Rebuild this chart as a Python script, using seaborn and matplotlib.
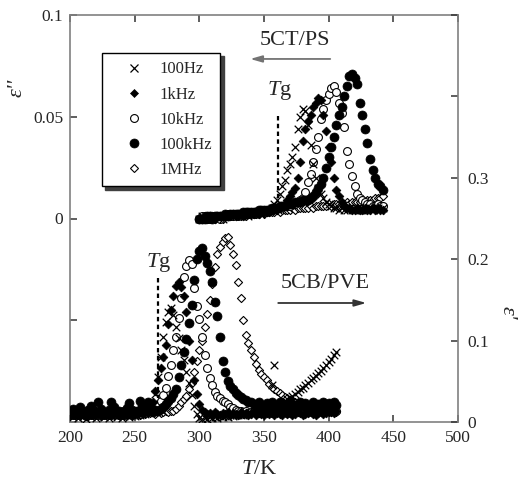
import matplotlib
matplotlib.use("Agg")
import matplotlib.pyplot as plt
import seaborn as sns
import pandas as pd
from matplotlib.lines import Line2D

# ---------------- data ----------------
freqs = ["100Hz", "1kHz", "10kHz", "100kHz", "1MHz"]

# 5CT/PS : epsilon'' (left axis)
T_ps = [300, 302, 304, 306, 308, 310, 312, 314, 316, 318,
        320, 322, 324, 326, 328, 330, 332, 334, 336, 338,
        340, 342, 344, 346, 348, 350, 352, 354, 356, 358,
        360, 362, 364, 366, 368, 370, 372, 374, 376, 378,
        380, 382, 384, 386, 388, 390, 392, 394, 396, 398,
        400, 402, 404, 406, 408, 410, 412, 414, 416, 418,
        420, 422, 424, 426, 428, 430, 432, 434, 436, 438,
        440, 442]

ps_100Hz = [0.000, 0.001, 0.000, 0.001, 0.001, 0.000, 0.001, 0.001, 0.001, 0.000,
            0.001, 0.001, 0.002, 0.001, 0.001, 0.002, 0.001, 0.002, 0.002, 0.001,
            0.002, 0.002, 0.002, 0.003, 0.002, 0.003, 0.003, 0.004, 0.005, 0.007,
            0.009, 0.012, 0.016, 0.019, 0.024, 0.027, 0.030, 0.035, 0.044, 0.050,
            0.054, 0.053, 0.046, 0.036, 0.027, 0.020, 0.015, 0.012, 0.010, 0.008,
            0.007, 0.006, 0.005, 0.005, 0.004, 0.005, 0.004, 0.004, 0.005, 0.004,
            0.004, 0.005, 0.004, 0.004, 0.005, 0.004, 0.005, 0.004, 0.005, 0.005,
            0.004, 0.005]
ps_1kHz = [0.000, 0.000, 0.001, 0.000, 0.001, 0.001, 0.000, 0.001, 0.001, 0.001,
           0.001, 0.001, 0.001, 0.002, 0.001, 0.002, 0.002, 0.001, 0.002, 0.002,
           0.002, 0.002, 0.003, 0.002, 0.003, 0.003, 0.003, 0.003, 0.004, 0.004,
           0.004, 0.005, 0.006, 0.007, 0.009, 0.011, 0.013, 0.015, 0.020, 0.028,
           0.038, 0.044, 0.048, 0.051, 0.055, 0.057, 0.059, 0.058, 0.051, 0.043,
           0.035, 0.028, 0.020, 0.014, 0.011, 0.008, 0.006, 0.005, 0.005, 0.004,
           0.004, 0.005, 0.004, 0.004, 0.005, 0.004, 0.004, 0.005, 0.004, 0.005,
           0.004, 0.004]
ps_10kHz = [0.000, 0.001, 0.001, 0.000, 0.000, 0.001, 0.001, 0.001, 0.000, 0.001,
            0.001, 0.002, 0.001, 0.001, 0.002, 0.001, 0.002, 0.002, 0.002, 0.002,
            0.003, 0.002, 0.003, 0.003, 0.003, 0.003, 0.004, 0.004, 0.004, 0.005,
            0.005, 0.005, 0.006, 0.006, 0.006, 0.006, 0.007, 0.007, 0.008, 0.009,
            0.010, 0.013, 0.018, 0.022, 0.028, 0.034, 0.040, 0.049, 0.054, 0.058,
            0.061, 0.064, 0.065, 0.062, 0.057, 0.052, 0.045, 0.033, 0.027, 0.021,
            0.016, 0.012, 0.010, 0.009, 0.008, 0.007, 0.007, 0.006, 0.006, 0.007,
            0.006, 0.006]
ps_100kHz = [0.000, 0.000, 0.000, 0.001, 0.001, 0.000, 0.001, 0.001, 0.001, 0.001,
             0.002, 0.001, 0.002, 0.002, 0.002, 0.002, 0.002, 0.003, 0.003, 0.003,
             0.003, 0.003, 0.003, 0.004, 0.004, 0.004, 0.004, 0.004, 0.005, 0.005,
             0.005, 0.006, 0.006, 0.006, 0.007, 0.007, 0.007, 0.008, 0.008, 0.008,
             0.009, 0.009, 0.009, 0.010, 0.011, 0.013, 0.015, 0.017, 0.020, 0.025,
             0.030, 0.035, 0.040, 0.046, 0.051, 0.055, 0.060, 0.065, 0.070, 0.071,
             0.069, 0.066, 0.057, 0.051, 0.044, 0.037, 0.029, 0.024, 0.020, 0.017,
             0.016, 0.014]
ps_1MHz = [0.000, 0.000, 0.001, 0.000, 0.000, 0.001, 0.000, 0.001, 0.001, 0.000,
           0.001, 0.001, 0.001, 0.001, 0.001, 0.002, 0.001, 0.002, 0.001, 0.002,
           0.002, 0.002, 0.002, 0.002, 0.003, 0.002, 0.003, 0.003, 0.003, 0.003,
           0.004, 0.003, 0.004, 0.004, 0.004, 0.004, 0.005, 0.004, 0.005, 0.005,
           0.005, 0.005, 0.005, 0.006, 0.005, 0.006, 0.006, 0.006, 0.006, 0.006,
           0.007, 0.006, 0.007, 0.007, 0.007, 0.007, 0.007, 0.008, 0.007, 0.008,
           0.008, 0.008, 0.008, 0.009, 0.008, 0.009, 0.009, 0.009, 0.010, 0.010,
           0.010, 0.011]

# 5CB/PVE : epsilon' (right axis)
T_pve = [200, 202, 204, 206, 208, 210, 212, 214, 216, 218,
         220, 222, 224, 226, 228, 230, 232, 234, 236, 238,
         240, 242, 244, 246, 248, 250, 252, 254, 256, 258,
         260, 262, 264, 266, 268, 270, 272, 274, 276, 278,
         280, 282, 284, 286, 288, 290, 292, 294, 296, 298,
         300, 302, 304, 306, 308, 310, 312, 314, 316, 318,
         320, 322, 324, 326, 328, 330, 332, 334, 336, 338,
         340, 342, 344, 346, 348, 350, 352, 354, 356, 358,
         360, 362, 364, 366, 368, 370, 372, 374, 376, 378,
         380, 382, 384, 386, 388, 390, 392, 394, 396, 398,
         400, 402, 404, 406]

pve_100Hz = [0.010, 0.006, 0.008, 0.005, 0.009, 0.007, 0.004, 0.008, 0.006, 0.009,
             0.005, 0.007, 0.010, 0.006, 0.008, 0.005, 0.007, 0.009, 0.006, 0.008,
             0.005, 0.007, 0.009, 0.006, 0.008, 0.007, 0.009, 0.008, 0.010, 0.010,
             0.012, 0.015, 0.022, 0.035, 0.055, 0.080, 0.105, 0.123, 0.135, 0.140,
             0.132, 0.117, 0.103, 0.088, 0.076, 0.062, 0.048, 0.033, 0.020, 0.010,
             0.005, 0.004, 0.005, 0.004, 0.006, 0.005, 0.006, 0.005, 0.007, 0.006,
             0.007, 0.006, 0.008, 0.007, 0.008, 0.008, 0.009, 0.009, 0.010, 0.010,
             0.011, 0.012, 0.012, 0.013, 0.014, 0.014, 0.015, 0.016, 0.045, 0.070,
             0.018, 0.021, 0.023, 0.025, 0.028, 0.030, 0.032, 0.035, 0.037, 0.040,
             0.042, 0.045, 0.048, 0.051, 0.054, 0.057, 0.060, 0.063, 0.066, 0.070,
             0.074, 0.078, 0.082, 0.086]
pve_1kHz = [0.009, 0.012, 0.008, 0.011, 0.007, 0.010, 0.013, 0.009, 0.011, 0.008,
            0.012, 0.010, 0.007, 0.011, 0.009, 0.013, 0.008, 0.010, 0.012, 0.009,
            0.011, 0.008, 0.010, 0.012, 0.009, 0.011, 0.010, 0.012, 0.011, 0.012,
            0.012, 0.016, 0.025, 0.038, 0.052, 0.066, 0.080, 0.095, 0.120, 0.138,
            0.155, 0.167, 0.172, 0.166, 0.155, 0.135, 0.100, 0.076, 0.052, 0.034,
            0.022, 0.015, 0.012, 0.010, 0.011, 0.009, 0.012, 0.010, 0.008, 0.011,
            0.010, 0.012, 0.009, 0.011, 0.010, 0.008, 0.012, 0.010, 0.011, 0.009,
            0.010, 0.012, 0.009, 0.011, 0.010, 0.008, 0.011, 0.010, 0.012, 0.009,
            0.011, 0.010, 0.009, 0.012, 0.010, 0.011, 0.009, 0.010, 0.012, 0.011,
            0.009, 0.010, 0.011, 0.012, 0.010, 0.009, 0.011, 0.012, 0.010, 0.011,
            0.013, 0.012, 0.011, 0.013]
pve_10kHz = [0.011, 0.008, 0.012, 0.009, 0.013, 0.010, 0.007, 0.011, 0.009, 0.012,
             0.010, 0.008, 0.012, 0.009, 0.011, 0.013, 0.008, 0.010, 0.012, 0.009,
             0.011, 0.008, 0.012, 0.010, 0.009, 0.011, 0.013, 0.010, 0.012, 0.011,
             0.012, 0.013, 0.013, 0.014, 0.020, 0.026, 0.033, 0.042, 0.056, 0.070,
             0.088, 0.104, 0.128, 0.152, 0.178, 0.192, 0.199, 0.194, 0.165, 0.143,
             0.126, 0.105, 0.082, 0.066, 0.054, 0.045, 0.037, 0.032, 0.029, 0.026,
             0.024, 0.022, 0.019, 0.017, 0.015, 0.014, 0.013, 0.012, 0.013, 0.011,
             0.012, 0.014, 0.012, 0.011, 0.013, 0.012, 0.014, 0.012, 0.011, 0.013,
             0.012, 0.014, 0.013, 0.012, 0.011, 0.013, 0.012, 0.014, 0.013, 0.012,
             0.014, 0.013, 0.012, 0.014, 0.013, 0.015, 0.013, 0.014, 0.012, 0.015,
             0.014, 0.013, 0.015, 0.014]
pve_100kHz = [0.012, 0.016, 0.010, 0.014, 0.018, 0.012, 0.009, 0.015, 0.020, 0.013,
              0.011, 0.024, 0.016, 0.012, 0.010, 0.015, 0.025, 0.019, 0.012, 0.014,
              0.010, 0.013, 0.017, 0.023, 0.015, 0.011, 0.014, 0.026, 0.020, 0.013,
              0.024, 0.016, 0.012, 0.015, 0.014, 0.016, 0.018, 0.022, 0.026, 0.030,
              0.034, 0.040, 0.055, 0.070, 0.086, 0.102, 0.122, 0.144, 0.175, 0.200,
              0.210, 0.214, 0.204, 0.195, 0.186, 0.172, 0.148, 0.130, 0.105, 0.075,
              0.062, 0.050, 0.044, 0.040, 0.036, 0.033, 0.031, 0.028, 0.027, 0.025,
              0.024, 0.022, 0.018, 0.024, 0.020, 0.017, 0.023, 0.019, 0.025, 0.021,
              0.018, 0.024, 0.020, 0.017, 0.022, 0.026, 0.019, 0.021, 0.018, 0.024,
              0.020, 0.023, 0.017, 0.021, 0.025, 0.019, 0.022, 0.018, 0.024, 0.020,
              0.023, 0.019, 0.025, 0.021]
pve_1MHz = [0.010, 0.013, 0.009, 0.012, 0.008, 0.011, 0.014, 0.010, 0.012, 0.009,
            0.013, 0.010, 0.008, 0.012, 0.011, 0.009, 0.013, 0.010, 0.012, 0.008,
            0.011, 0.013, 0.009, 0.012, 0.010, 0.014, 0.011, 0.009, 0.012, 0.010,
            0.013, 0.011, 0.012, 0.010, 0.013, 0.011, 0.012, 0.013, 0.012, 0.014,
            0.014, 0.016, 0.020, 0.024, 0.028, 0.032, 0.040, 0.048, 0.061, 0.075,
            0.088, 0.100, 0.117, 0.133, 0.150, 0.170, 0.190, 0.207, 0.215, 0.221,
            0.226, 0.227, 0.217, 0.206, 0.193, 0.172, 0.152, 0.125, 0.107, 0.097,
            0.089, 0.080, 0.071, 0.064, 0.059, 0.055, 0.051, 0.047, 0.043, 0.040,
            0.038, 0.036, 0.033, 0.031, 0.029, 0.027, 0.026, 0.024, 0.023, 0.022,
            0.020, 0.019, 0.018, 0.017, 0.016, 0.015, 0.015, 0.014, 0.013, 0.013,
            0.012, 0.012, 0.012, 0.012]

ps_series = dict(zip(freqs, [ps_100Hz, ps_1kHz, ps_10kHz, ps_100kHz, ps_1MHz]))
pve_series = dict(zip(freqs, [pve_100Hz, pve_1kHz, pve_10kHz, pve_100kHz, pve_1MHz]))

x_ticks = [200, 250, 300, 350, 400, 450, 500]
left_ticks = [-0.1, -0.05, 0, 0.05, 0.1]
left_labels = ["", "", "0", "0.05", "0.1"]
right_ticks = [0, 0.1, 0.2, 0.3, 0.4, 0.5]
right_labels = ["0", "0.1", "0.2", "0.3", "", ""]

rows = []
for k in freqs:
    for t, v in zip(T_ps, ps_series[k]):
        rows.append(("5CT/PS", k, t, v))
    for t, v in zip(T_pve, pve_series[k]):
        rows.append(("5CB/PVE", k, t, v))
df = pd.DataFrame(rows, columns=["system", "freq", "T", "eps"])

# ---------------- style ----------------
sns.set_style("ticks")
plt.rcParams["font.family"] = ["Liberation Serif", "DejaVu Serif"]
plt.rcParams["mathtext.fontset"] = "custom"
plt.rcParams["mathtext.rm"] = "Liberation Serif"
plt.rcParams["mathtext.it"] = "Liberation Serif:italic"

mstyle = {
    "100Hz":  dict(marker="x", s=30, color="k", linewidth=0.9),
    "1kHz":   dict(marker="D", s=20, facecolor="k", edgecolor="k", linewidth=0.5),
    "10kHz":  dict(marker="o", s=32, facecolor="white", edgecolor="k", linewidth=0.8),
    "100kHz": dict(marker="o", s=42, facecolor="k", edgecolor="k", linewidth=0.5),
    "1MHz":   dict(marker="D", s=17, facecolor="white", edgecolor="k", linewidth=0.8),
}
draw_order = ["1MHz", "10kHz", "100kHz", "1kHz", "100Hz"]

W, H = 520, 482
fig = plt.figure(figsize=(W / 100, H / 100), dpi=100)
L, R, TOP, BOT = 70, 458, 15, 422
ax = fig.add_axes([L / W, 1 - BOT / H, (R - L) / W, (BOT - TOP) / H])
ax2 = ax.twinx()

for k in draw_order:
    sub = df[(df.system == "5CT/PS") & (df.freq == k)]
    sns.scatterplot(data=sub, x="T", y="eps", ax=ax, legend=False, **mstyle[k])
for k in draw_order:
    sub = df[(df.system == "5CB/PVE") & (df.freq == k)]
    sns.scatterplot(data=sub, x="T", y="eps", ax=ax2, legend=False, **mstyle[k])

ax.set_xlim(200, 500)
ax.set_ylim(-0.1, 0.1)
ax2.set_ylim(0, 0.5)
ax.set_xticks(x_ticks)
ax.set_xticklabels([str(t) for t in x_ticks])
ax.set_yticks(left_ticks)
ax.set_yticklabels(left_labels)
ax2.set_yticks(right_ticks)
ax2.set_yticklabels(right_labels)
ax.set_xlabel("")
ax.set_ylabel("")
ax2.set_ylabel("")

spc = "0.5"
for a in (ax, ax2):
    for sp in a.spines.values():
        sp.set_color(spc)
        sp.set_linewidth(1.2)
ax.spines["right"].set_visible(False)
for s in ("left", "top", "bottom"):
    ax2.spines[s].set_visible(False)
ax2.spines["right"].set_visible(True)

ax.tick_params(axis="both", direction="in", length=5, width=1.1, color="0.2",
               labelsize=12.5, top=True, right=False, pad=5)
ax.tick_params(axis="x", pad=6)
ax2.tick_params(axis="y", direction="in", length=5, width=1.1, color="0.2",
                labelsize=12.5, pad=7)

# Tg markers
ax.plot([361.0, 361.0], [0.0505, 0.009], ls=(0, (2, 1.5)), color="k", lw=1.6)
ax.text(362.2, 0.0607, r"$T$g", fontsize=16, ha="center", va="baseline")
ax2.plot([268.3, 268.3], [0.177, 0.03], ls=(0, (2, 1.5)), color="k", lw=1.6)
ax2.text(268.5, 0.1904, r"$T$g", fontsize=16, ha="center", va="baseline")

# system labels with arrows
ax.text(374.1, 0.0877, "5CT/PS", fontsize=16, ha="center", va="center")
ax.annotate("", xy=(339.3, 0.0784), xytext=(401.2, 0.0784),
            arrowprops=dict(arrowstyle="-|>,head_length=0.7,head_width=0.2",
                            color="0.45", lw=1.3, shrinkA=0, shrinkB=0))
ax2.text(397.7, 0.1646, "5CB/PVE", fontsize=16, ha="center", va="baseline")
ax2.annotate("", xy=(429.1, 0.1462), xytext=(361.0, 0.1462),
             arrowprops=dict(arrowstyle="-|>,head_length=0.7,head_width=0.2",
                             color="0.2", lw=1.3, shrinkA=0, shrinkB=0))

# axis labels
fig.text(259 / W, 1 - 469 / H, r"$T$/K", fontsize=16, ha="center", va="center")
fig.text(17.5 / W, 1 - 88 / H, "ε''", fontsize=16, style="italic", rotation=90,
         ha="center", va="center")
fig.text(507 / W, 1 - 313 / H, "ε'", fontsize=16, style="italic", rotation=270,
         ha="center", va="center")

# legend
handles = []
for k in freqs:
    st = mstyle[k]
    ms = st["s"] ** 0.5
    if st["marker"] == "x":
        h = Line2D([], [], ls="none", marker="x", color="k", markersize=ms, markeredgewidth=0.9)
    else:
        h = Line2D([], [], ls="none", marker=st["marker"], markerfacecolor=st["facecolor"],
                   markeredgecolor="k", markersize=ms, markeredgewidth=st["linewidth"])
    handles.append(h)
leg = ax2.legend(handles, freqs, loc="upper left",
                 bbox_to_anchor=(102 / W, 1 - 53 / H), bbox_transform=fig.transFigure,
                 borderaxespad=0, fontsize=12, frameon=True, fancybox=False,
                 framealpha=1, edgecolor="k", borderpad=0.5, labelspacing=0.55,
                 handlelength=2.8, handletextpad=0.15, numpoints=1,
                 shadow={"ox": 2.5, "oy": -2.5, "color": "0.25", "alpha": 1})
leg.get_frame().set_linewidth(1.0)

fig.savefig("out.png", dpi=100)
